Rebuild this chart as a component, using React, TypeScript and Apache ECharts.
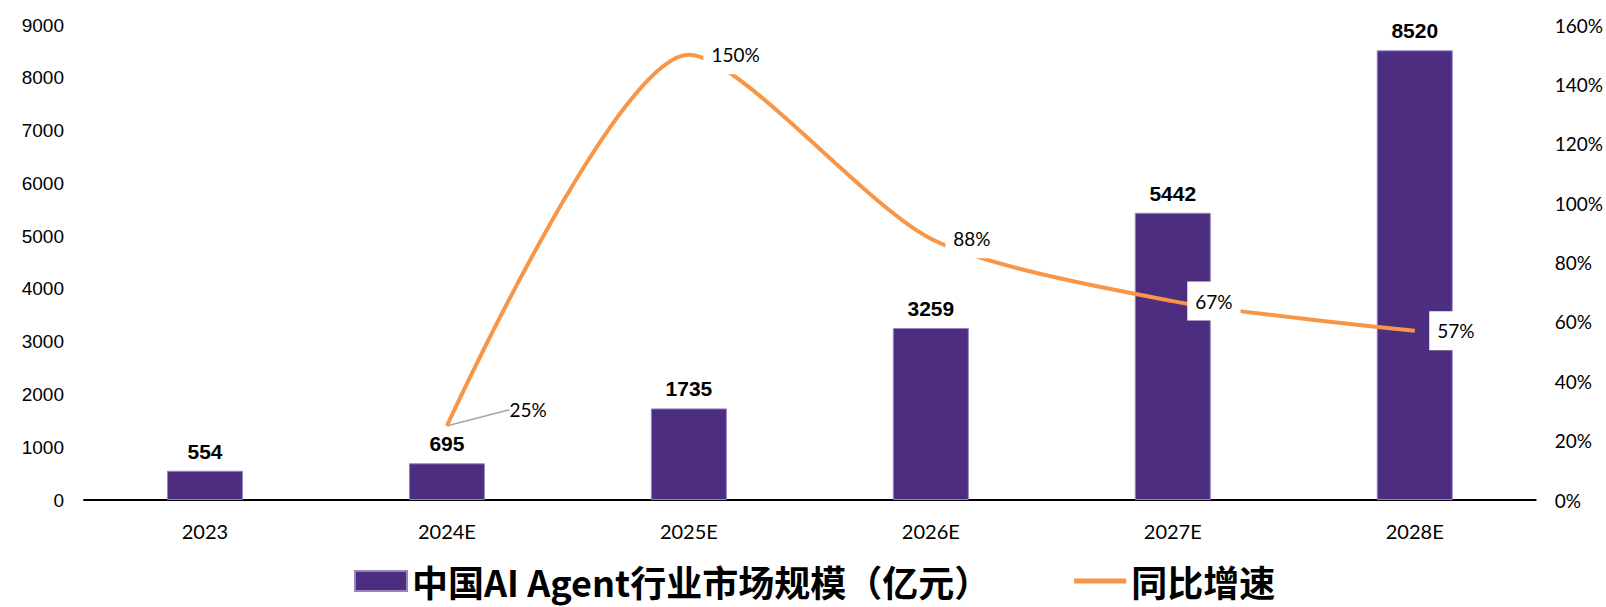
import React, { useEffect, useRef } from "react";
import * as echarts from "echarts";

const categories = ["2023", "2024E", "2025E", "2026E", "2027E", "2028E"];
const marketSize = [554, 695, 1735, 3259, 5442, 8520];
const growth: (number | null)[] = [null, 25, 150, 88, 67, 57];
const leftTicks = { min: 0, max: 9000, interval: 1000 };
const rightTicks = { min: 0, max: 160, interval: 20 };
const barName = "中国AI Agent行业市场规模（亿元）";
const lineName = "同比增速";

export default function App() {
  const ref = useRef<HTMLDivElement>(null);
  useEffect(() => {
    document.body.style.margin = "0";
    const chart = echarts.init(ref.current!, null, { renderer: "svg" });
    const lineLabelBase = {
      show: true,
      position: "right",
      distance: 14,
      color: "#000",
      fontFamily: "Lato",
      fontSize: 19,
      backgroundColor: "#fff",
      padding: [10, 8],
      formatter: "{c}%",
    };
    const lineData = growth.map((v, i) => {
      if (v === null) return null;
      if (i === 1) {
        return {
          value: v,
          label: { ...lineLabelBase, backgroundColor: "transparent", padding: 0, distance: 5 },
          labelLine: { show: true, lineStyle: { color: "#A6A6A6", width: 1.5 } },
        };
      }
      return { value: v, label: lineLabelBase };
    });
    chart.setOption({
      animation: false,
      grid: { left: 84, right: 69, top: 25, bottom: 107 },
      legend: {
        left: 349,
        top: 558,
        itemWidth: 52,
        itemHeight: 20,
        itemGap: 84,
        textStyle: {
          fontFamily: "Noto Sans CJK SC",
          fontSize: 36,
          fontWeight: "bold",
          lineHeight: 36,
          color: "#000",
        },
        data: [
          { name: barName, icon: "rect" },
          { name: lineName, icon: "path://M0,0L52,0L52,5L0,5Z", itemStyle: { color: "#F79646" } },
        ],
      },
      xAxis: {
        type: "category",
        data: categories,
        axisLine: { lineStyle: { color: "#000", width: 2 } },
        axisTick: { inside: true, length: 7, lineStyle: { color: "#000", width: 1.5 } },
        axisLabel: { color: "#000", fontFamily: "Lato", fontSize: 20, margin: 21 },
      },
      yAxis: [
        {
          type: "value",
          ...leftTicks,
          axisLine: { show: false },
          axisTick: { show: false },
          splitLine: { show: false },
          axisLabel: {
            color: "#000",
            fontFamily: "Liberation Sans",
            fontSize: 19,
            margin: 20,
            formatter: (v: number) => String(v),
          },
        },
        {
          type: "value",
          ...rightTicks,
          position: "right",
          axisLine: { show: false },
          axisTick: { show: false },
          splitLine: { show: false },
          axisLabel: { color: "#000", fontFamily: "Lato", fontSize: 19, margin: 19, formatter: "{value}%" },
        },
      ],
      series: [
        {
          name: barName,
          type: "bar",
          data: marketSize,
          barWidth: 76,
          itemStyle: { color: "#4D2D80", borderColor: "#9485BD", borderWidth: 1 },
          label: {
            show: true,
            position: "top",
            distance: 9,
            color: "#000",
            fontFamily: "Liberation Sans",
            fontWeight: "bold",
            fontSize: 21,
          },
          z: 2,
        },
        {
          name: lineName,
          type: "line",
          yAxisIndex: 1,
          data: lineData,
          smooth: 0.25,
          symbol: "circle",
          symbolSize: 1,
          showSymbol: true,
          lineStyle: { color: "#F79646", width: 4 },
          itemStyle: { color: "#F79646" },
          labelLayout: (p: any) => (p.dataIndex === 1 ? { dx: 57, dy: -16 } : {}),
          z: 3,
        },
      ],
    });
    return () => chart.dispose();
  }, []);
  return <div ref={ref} style={{ width: 1606, height: 607 }} />;
}
